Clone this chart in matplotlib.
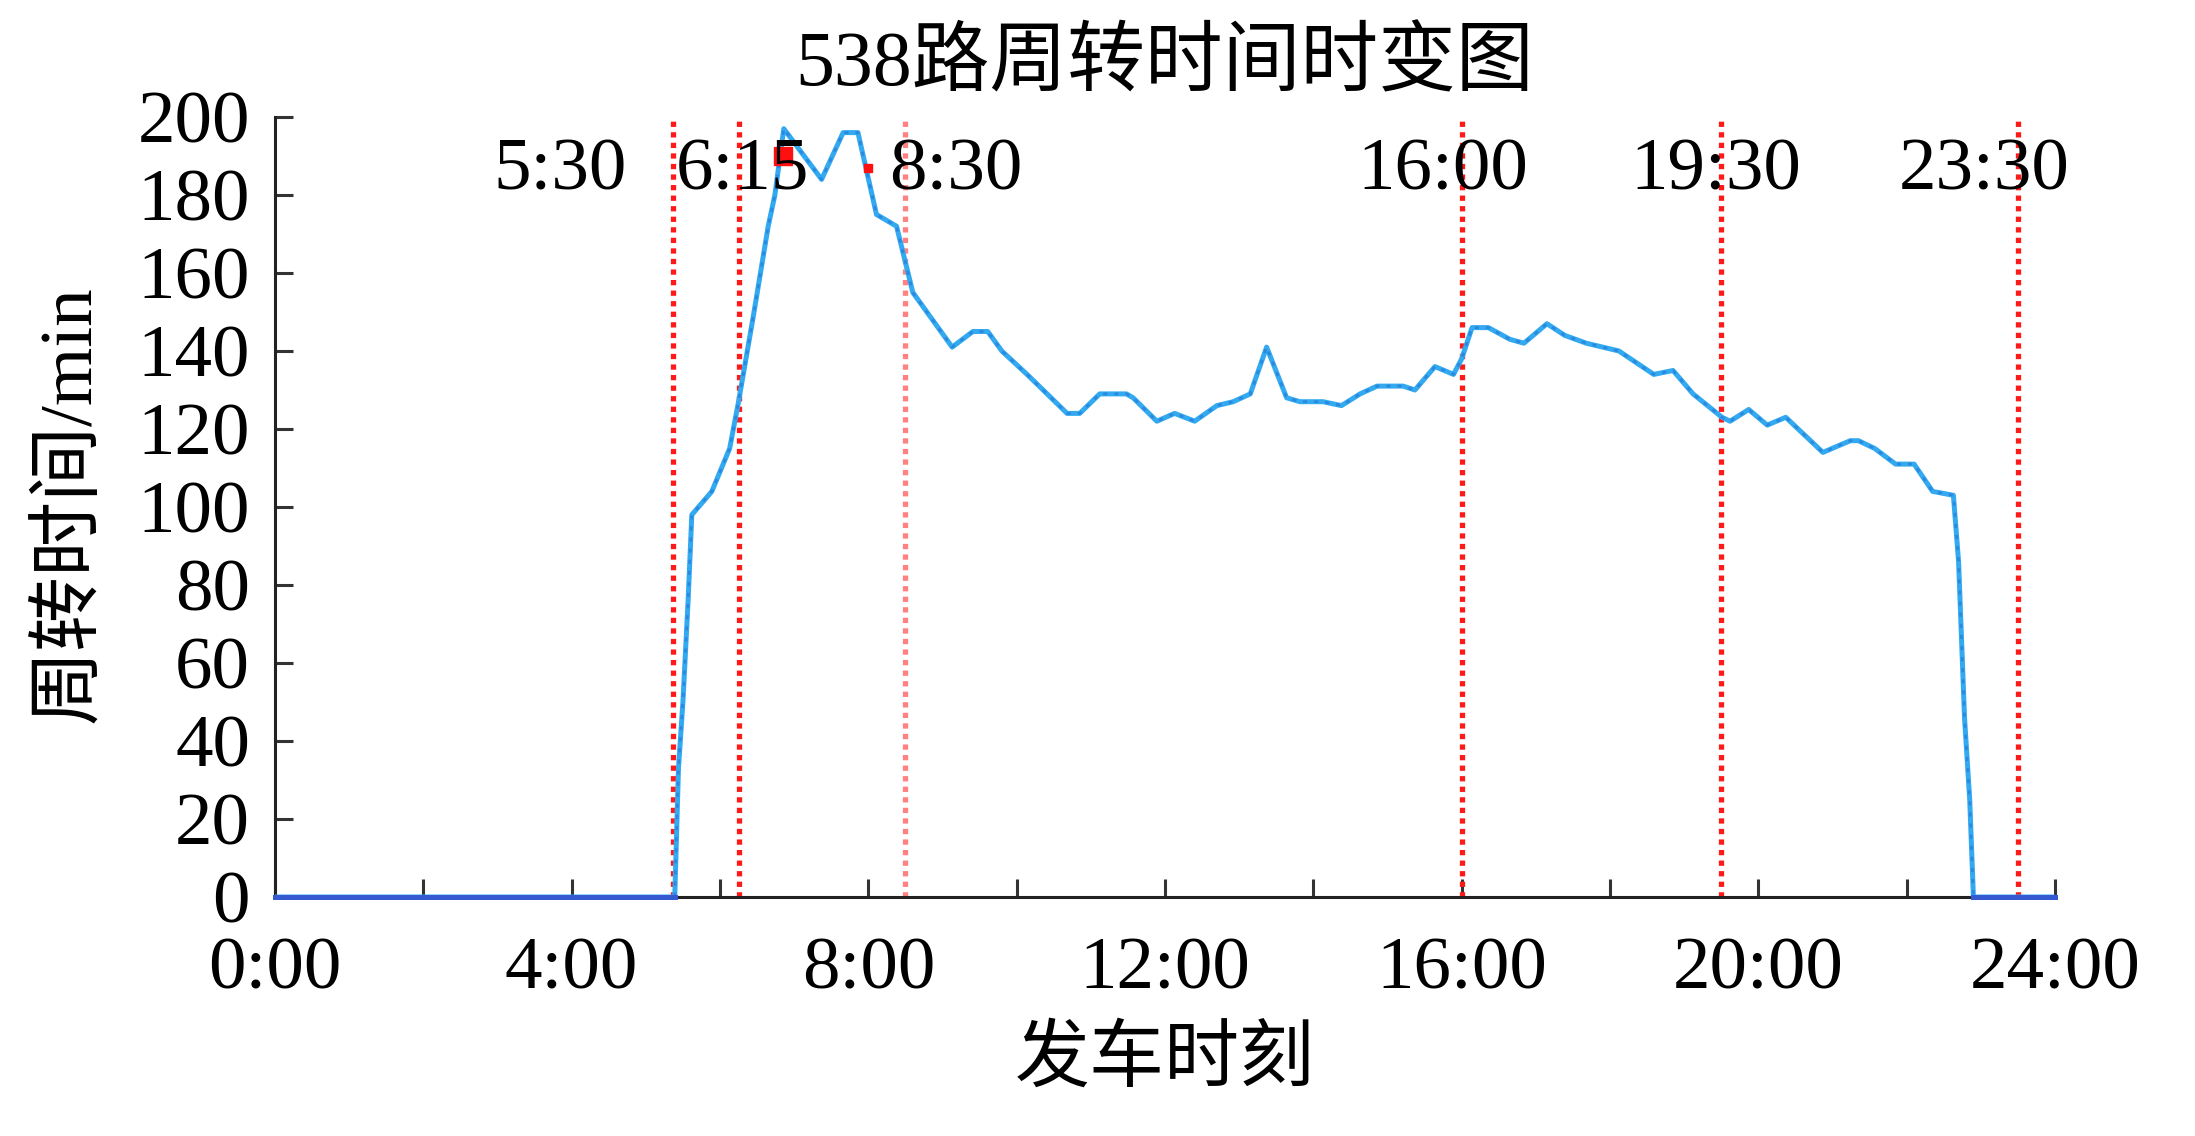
import matplotlib
matplotlib.use("Agg")
import matplotlib.pyplot as plt
import numpy as np

plt.rcParams['font.family'] = ['Liberation Serif', 'Noto Sans CJK SC', 'DejaVu Sans']

# ---- data ----
hours = [0, 5.39, 5.44, 5.50, 5.57, 5.62, 5.89, 6.13, 6.25, 6.45, 6.65, 6.74, 6.86,
         7.37, 7.66, 7.86, 8.11, 8.38, 8.60, 9.13, 9.41, 9.61, 9.80, 10.14, 10.68,
         10.85, 11.12, 11.48, 11.57, 11.89, 12.13, 12.40, 12.70, 12.92, 13.15, 13.37,
         13.64, 13.82, 14.13, 14.38, 14.63, 14.86, 15.21, 15.37, 15.64, 15.89, 16.00,
         16.14, 16.36, 16.65, 16.84, 17.15, 17.39, 17.68, 18.12, 18.59, 18.85, 19.12,
         19.51, 19.62, 19.87, 20.12, 20.37, 20.87, 21.24, 21.35, 21.57, 21.85, 22.10,
         22.35, 22.63, 22.70, 22.78, 22.85, 22.90, 24.0]
turnaround = [0, 0, 33, 50, 76, 98, 104, 115, 127, 149, 172, 180, 197,
              184, 196, 196, 175, 172, 155, 141, 145, 145, 140, 134, 124,
              124, 129, 129, 128, 122, 124, 122, 126, 127, 129, 141,
              128, 127, 127, 126, 129, 131, 131, 130, 136, 134, 138,
              146, 146, 143, 142, 147, 144, 142, 140, 134, 135, 129,
              123, 122, 125, 121, 123, 114, 117, 117, 115, 111, 111,
              104, 103, 86, 46, 25, 0, 0]

vline_hours = [5.37, 6.25, 8.5, 16.0, 19.5, 23.5]
vline_labels = ["5:30", "6:15", "8:30", "16:00", "19:30", "23:30"]
label_hours = [3.84, 6.30, 9.18, 15.74, 19.43, 23.04]
label_value = 186

red_mark_hours = [6.85, 8.0]
red_mark_values = [190, 187]

xtick_hours = [0, 4, 8, 12, 16, 20, 24]
xtick_labels = ["0:00", "4:00", "8:00", "12:00", "16:00", "20:00", "24:00"]
ytick_values = list(range(0, 201, 20))

title = "538路周转时间时变图"
xlabel = "发车时刻"
ylabel = "周转时间/min"

# ---- figure ----
W, H = 2195, 1136
fig = plt.figure(figsize=(W / 100, H / 100), dpi=100)
ax = fig.add_axes([275 / W, 1 - 897 / H, (2055 - 275) / W, (897 - 117) / H])

vline_alpha = [1.0, 1.0, 0.55, 1.0, 1.0, 1.0]
for xh, a in zip(vline_hours, vline_alpha):
    ax.axvline(xh, color='#ff1a1a', lw=3.8, ls=(0, (1.0, 1.0)), alpha=a, zorder=2)

x = np.array(hours)
y = np.array(turnaround, dtype=float)
ax.plot(x, y, color='#33aaf0', lw=3.6, zorder=3, solid_joinstyle='round')
ax.plot(x, y, color='#1f55c8', lw=2.0, ls=(0, (1.5, 2.5)), alpha=0.4, zorder=4)
yz = np.where(y == 0, y, np.nan)
ax.plot(x, yz, color='#3559d0', lw=3.6, zorder=5, clip_on=False)

ax.plot(red_mark_hours[:1], red_mark_values[:1], 's', color='#ff1010', ms=13, zorder=4)
ax.plot(red_mark_hours[1:], red_mark_values[1:], 's', color='#ff1010', ms=6, zorder=4)

for lx, lab in zip(label_hours, vline_labels):
    ax.text(lx, label_value, lab, fontsize=54, ha='center', va='center', zorder=6,
            family=['Liberation Serif'])

ax.set_xlim(0, 24)
ax.set_ylim(0, 200)
ax.set_xticks(xtick_hours)
ax.set_xticklabels(xtick_labels)
ax.set_xticks(np.arange(2, 24, 4), minor=True)
ax.set_yticks(ytick_values)
ax.set_yticklabels([str(v) for v in ytick_values])

for s in ['top', 'right']:
    ax.spines[s].set_visible(False)
for s in ['left', 'bottom']:
    ax.spines[s].set_linewidth(2.2)
    ax.spines[s].set_color('#222222')

ax.tick_params(axis='both', which='both', direction='in', length=13, width=2.2,
               color='#333333', labelsize=54)
ax.tick_params(axis='x', which='both', pad=29)
ax.tick_params(axis='y', which='both', pad=18)

fig.text(1165 / W, 1 - 66 / H, title, fontsize=56, ha='center', va='center')
fig.text(1165 / W, 1 - 1062 / H, xlabel, fontsize=54, ha='center', va='center')
fig.text(70 / W, 1 - 504 / H, ylabel, fontsize=54, ha='center', va='center', rotation=90)

fig.savefig("out.png", dpi=100)
